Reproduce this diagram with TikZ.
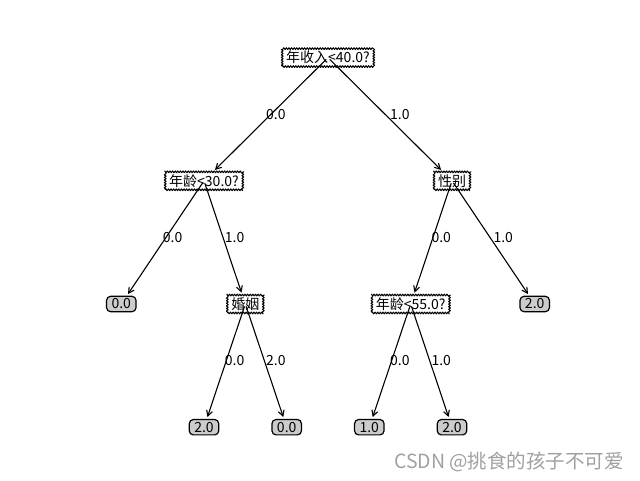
\documentclass[tikz,border=0pt]{standalone}
\usepackage{fontspec}
\setmainfont{Noto Sans CJK SC}
\usetikzlibrary{arrows.meta,decorations.pathmorphing}
\definecolor{LeafGray}{gray}{0.8}
\definecolor{MarkGray}{RGB}{160,160,160}
\tikzset{
  edge/.style={-{Straight Barb[length=5.5pt,width=6pt]},line width=1.1pt,
    shorten >=2pt,shorten <=2.5pt},
  elabel/.style={anchor=base west,inner sep=0pt,font=\fontsize{14}{16}\selectfont},
  decision/.style={draw,fill=white,line width=1pt,line join=round,decorate,
    decoration={zigzag,segment length=2.6pt,amplitude=0.9pt},
    inner xsep=4pt,inner ysep=2.5pt,font=\fontsize{14}{16}\selectfont},
  leaf/.style={draw,fill=LeafGray,line width=1.2pt,rounded corners=4pt,
    inner xsep=5pt,inner ysep=2.5pt,font=\fontsize{14}{16}\selectfont}
}
\begin{document}
\begin{tikzpicture}[x=1pt,y=-1pt]
  \useasboundingbox (0,0) rectangle (640,480);
  % decision nodes
  \node[decision] (income) at (328,57.6) {年收入<40.0?};
  \node[decision] (agelow) at (204,180.8) {年龄<30.0?};
  \node[decision] (gender) at (452,180.8) {性别};
  \node[decision] (marriage) at (245.3,304) {婚姻};
  \node[decision] (agehigh) at (410.7,304) {年龄<55.0?};
  % leaves
  \node[leaf] (leafA) at (121.3,304) {0.0};
  \node[leaf] (leafB) at (534.7,304) {2.0};
  \node[leaf] (leafC) at (204,427.2) {2.0};
  \node[leaf] (leafD) at (286.7,427.2) {0.0};
  \node[leaf] (leafE) at (369.3,427.2) {1.0};
  \node[leaf] (leafF) at (452,427.2) {2.0};
  % connectors
  \draw[edge] (income.center) -- (agelow);
  \draw[edge] (income.center) -- (gender);
  \draw[edge] (agelow.center) -- (leafA);
  \draw[edge] (agelow.center) -- (marriage);
  \draw[edge] (gender.center) -- (agehigh);
  \draw[edge] (gender.center) -- (leafB);
  \draw[edge] (marriage.center) -- (leafC);
  \draw[edge] (marriage.center) -- (leafD);
  \draw[edge] (agehigh.center) -- (leafE);
  \draw[edge] (agehigh.center) -- (leafF);
  % branch values
  \path (income.center) -- (agelow.center) node[elabel,midway] {0.0};
  \path (income.center) -- (gender.center) node[elabel,midway] {1.0};
  \path (agelow.center) -- (leafA.center) node[elabel,midway] {0.0};
  \path (agelow.center) -- (marriage.center) node[elabel,midway] {1.0};
  \path (gender.center) -- (agehigh.center) node[elabel,midway] {0.0};
  \path (gender.center) -- (leafB.center) node[elabel,midway] {1.0};
  \path (marriage.center) -- (leafC.center) node[elabel,midway] {0.0};
  \path (marriage.center) -- (leafD.center) node[elabel,midway] {2.0};
  \path (agehigh.center) -- (leafE.center) node[elabel,midway] {0.0};
  \path (agehigh.center) -- (leafF.center) node[elabel,midway] {1.0};
  % watermark
  \node[text=MarkGray,font=\fontsize{19.5}{21}\selectfont] (mark) at (509,462) {CSDN @挑食的孩子不可爱};
\end{tikzpicture}
\end{document}
